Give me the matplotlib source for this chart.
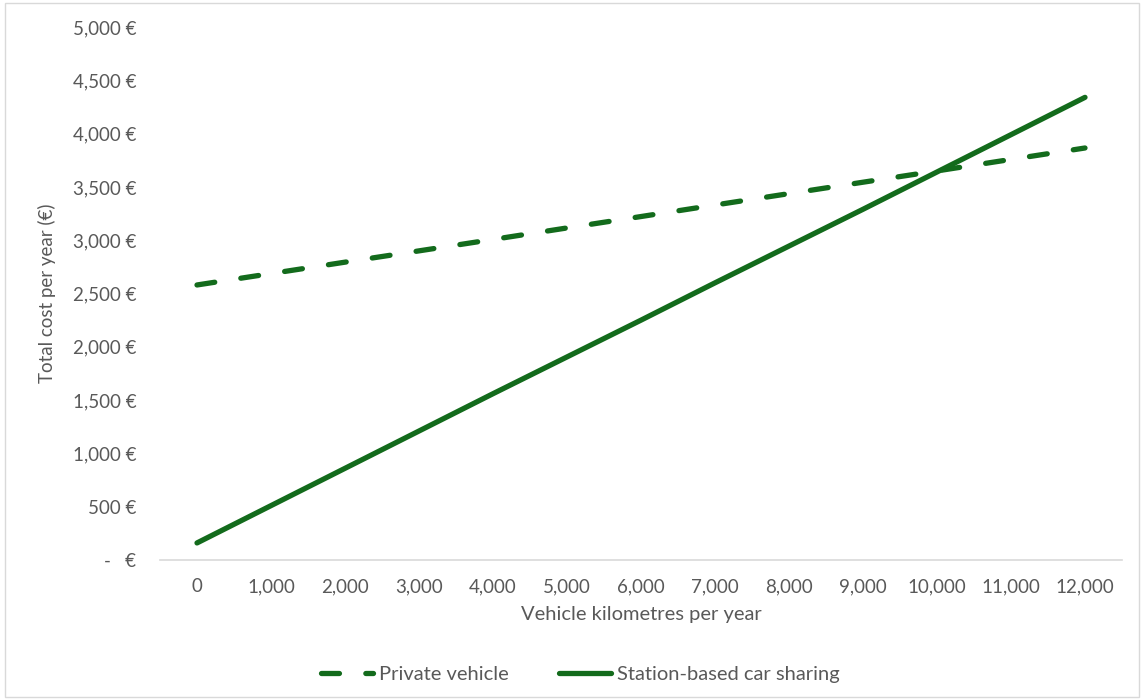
import matplotlib
matplotlib.use("Agg")
from matplotlib import pyplot as plt
from matplotlib.patches import Rectangle
from matplotlib.ticker import FuncFormatter

km = [0, 1000, 2000, 3000, 4000, 5000, 6000, 7000, 8000, 9000, 10000, 11000, 12000]
private_vehicle = [2580, 2687, 2794, 2900, 3007, 3115, 3222, 3330, 3437, 3544, 3650, 3758, 3865]
car_sharing = [160, 510, 860, 1210, 1560, 1905, 2250, 2600, 2945, 3290, 3640, 3990, 4340]

green = '#136b1c'
grey = '#595959'
plt.rcParams['font.family'] = ['Lato', 'DejaVu Sans']

fig = plt.figure(figsize=(11.44, 7.0), dpi=100)
ax = fig.add_axes([160 / 1144, 140 / 700, 962 / 1144, 533 / 700])

pos = list(range(len(km)))
ax.plot(pos, private_vehicle, color=green, lw=3.8, linestyle=(0, (3.4, 5.0)),
        dash_capstyle='round', label='Private vehicle')
ax.plot(pos, car_sharing, color=green, lw=3.8, solid_capstyle='round',
        label='Station-based car sharing')

ax.set_xlim(-0.5, len(km) - 0.5)
ax.set_ylim(0, 5000)
ax.set_xticks(pos)
ax.set_xticklabels([f'{k:,}' for k in km])
ax.set_yticks(range(0, 5001, 500))
ax.yaxis.set_major_formatter(FuncFormatter(lambda v, p: '-   €' if v == 0 else f'{v:,.0f} €'))
ax.tick_params(axis='both', length=0, labelsize=13.5, labelcolor=grey)
ax.tick_params(axis='y', pad=17)
ax.tick_params(axis='x', pad=13)

for s in ['top', 'right', 'left']:
    ax.spines[s].set_visible(False)
ax.spines['bottom'].set_color('#d9d9d9')
ax.spines['bottom'].set_linewidth(1.2)

ax.set_xlabel('Vehicle kilometres per year', fontsize=14.5, color=grey, labelpad=8)
ax.set_ylabel('Total cost per year (€)', fontsize=13.5, color=grey, labelpad=12)

ax.legend(loc='center', bbox_to_anchor=(0.437, -0.215), ncol=2, frameon=False,
          fontsize=14.5, labelcolor=grey, handlelength=2.6, handletextpad=0.3,
          columnspacing=2.5)

fig.patches.append(Rectangle((0.004, 0.004), 0.992, 0.992, transform=fig.transFigure,
                             fill=False, edgecolor='#d9d9d9', lw=1))

fig.savefig('out.png', dpi=100)
